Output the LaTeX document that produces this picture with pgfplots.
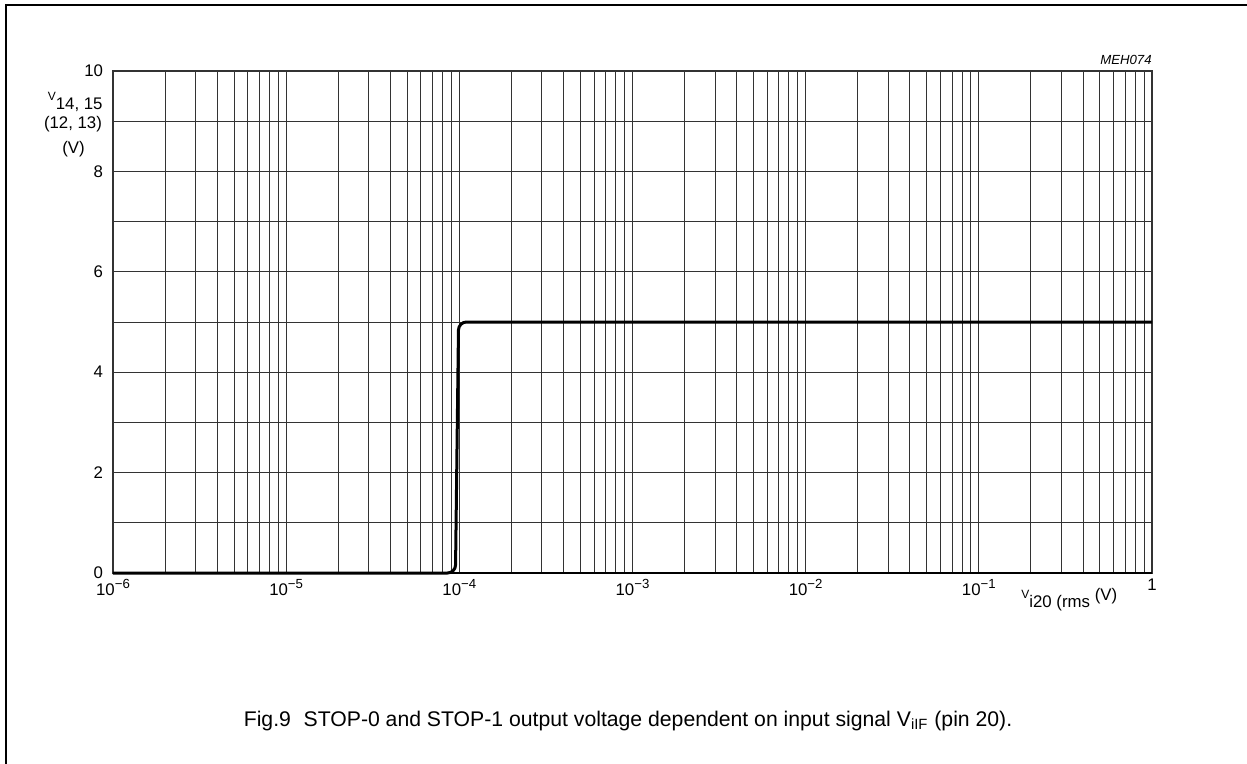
\documentclass[border=0pt]{standalone}
\usepackage{fontspec}
\setmainfont{Liberation Sans}
\usepackage{pgfplots}
\pgfplotsset{compat=1.18}

\newcommand{\lbl}{\fontsize{8.4}{10}\selectfont}
\newcommand{\smallV}{\raisebox{4.5pt}{\fontsize{6}{7}\selectfont V}}
\newcommand{\pow}[1]{10\raisebox{3.6pt}{\fontsize{6.6}{7}\selectfont −#1}}

\begin{document}
\lbl
\begin{tikzpicture}[x=0.5pt,y=-0.5pt]
\useasboundingbox (0,0) rectangle (1247,764);
% page frame (left and top only)
\draw[line width=1pt] (5.5,764) -- (5.5,5.5) -- (1247,5.5);

\begin{axis}[
    at={(56.5pt,-286.5pt)}, anchor=south west,
    scale only axis, width=519.5pt, height=251pt,
    xmode=log, xmin=1e-6, xmax=1, ymin=0, ymax=10,
    xtick={1e-6,1e-5,1e-4,1e-3,1e-2,1e-1,1},
    xticklabels={\pow{6},\pow{5},\pow{4},\pow{3},\pow{2},\pow{1},1},
    minor xtick={2e-6,3e-6,4e-6,5e-6,6e-6,7e-6,8e-6,9e-6,
                 2e-5,3e-5,4e-5,5e-5,6e-5,7e-5,8e-5,9e-5,
                 2e-4,3e-4,4e-4,5e-4,6e-4,7e-4,8e-4,9e-4,
                 2e-3,3e-3,4e-3,5e-3,6e-3,7e-3,8e-3,9e-3,
                 2e-2,3e-2,4e-2,5e-2,6e-2,7e-2,8e-2,9e-2,
                 0.2,0.3,0.4,0.5,0.6,0.7,0.8,0.9},
    ytick={0,2,4,6,8,10},
    yticklabels={0,2,4,6,8,10},
    minor ytick={1,3,5,7,9},
    grid=both,
    major grid style={line width=0.5pt, black!80},
    minor grid style={line width=0.5pt, black!80},
    axis line style={line width=0.6pt, black!80},
    major tick length=0pt, minor tick length=0pt,
    ticklabel style={font=\lbl},
    yticklabel style={xshift=-2pt},
    clip=false,
]
\draw[line width=1pt] (rel axis cs:0,0) -- (rel axis cs:1,0);
\addplot[black, line width=1.5pt, rounded corners=4pt] coordinates {
    (1e-6,0) (9.5e-5,0) (9.9e-5,5) (1,5)
};
\end{axis}

% x label
\node[anchor=base west, font=\lbl, inner sep=0pt] at (1021,607)
    {\smallV i20 (rms \raisebox{3.5pt}{(V)}};

% y label
\node[anchor=base east, font=\lbl, inner sep=0pt] at (103,110) {\smallV 14, 15};
\node[anchor=base, font=\lbl, inner sep=0pt] at (73,129) {(12, 13)};
\node[anchor=base, font=\lbl, inner sep=0pt] at (73.5,154) {(V)};

% figure code
\node[anchor=base east, font=\fontsize{6.6}{8}\selectfont\itshape, inner sep=0pt] at (1152,65) {MEH074};

% caption
\node[anchor=base, font=\fontsize{10.6}{12}\selectfont, inner sep=0pt] at (628,726)
    {Fig.9\hspace{0.6em}STOP-0 and STOP-1 output voltage dependent on input signal V\textsubscript{iIF} (pin 20).};
\end{tikzpicture}
\end{document}
